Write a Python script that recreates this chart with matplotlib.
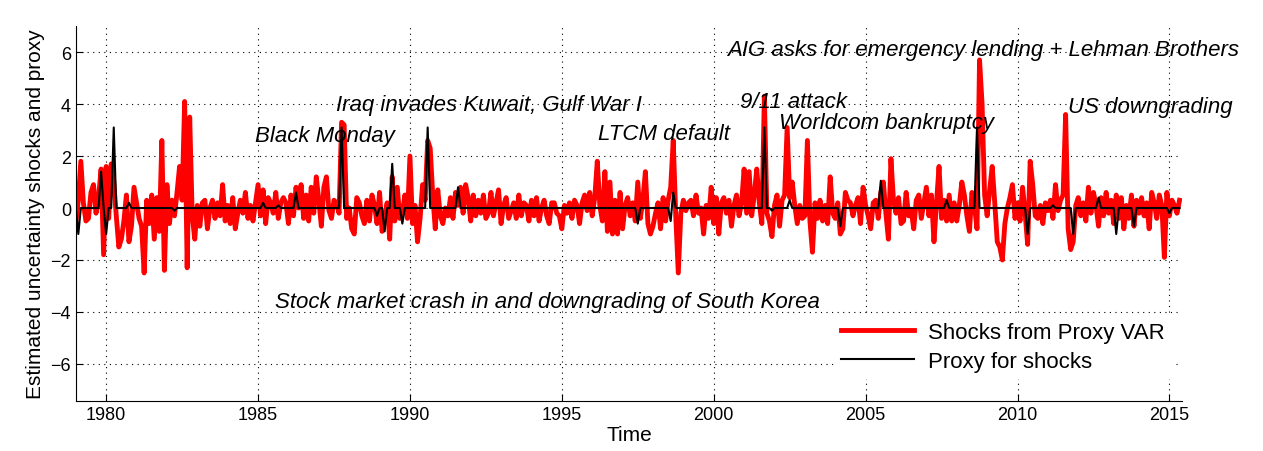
import numpy as np
import matplotlib
matplotlib.use("Agg")
import matplotlib.pyplot as plt

plt.rcParams['font.family'] = ['Liberation Sans', 'DejaVu Sans']

start_year = 1979.0
shocks_by_year = [
    [-0.6, 0.3, 1.8, 0.2, -0.5, -0.4, 0.6, 0.9, -0.2, 0.4, 1.5, -1.8],
    [1.6, -0.4, 1.7, 1.0, -0.3, -1.5, -1.2, -0.5, 0.5, -1.3, -0.7, 0.8],
    [0.2, -0.4, -0.7, -2.5, 0.3, -0.6, 0.5, -1.2, 0.4, -0.9, 2.6, -2.4],
    [0.9, -0.6, 0.3, -0.3, 0.6, 1.6, 0.3, 4.1, -2.3, 3.5, -0.3, -1.2],
    [0.1, -0.7, 0.2, 0.3, -0.8, 0.0, 0.3, -0.4, 0.2, -0.3, 0.9, -0.5],
    [0.1, -0.6, 0.4, -0.8, -0.2, 0.3, -0.2, 0.6, -0.4, 0.1, -0.5, 0.2],
    [0.9, -0.3, 0.7, -0.6, 0.4, 0.2, -0.2, 0.6, -0.4, 0.2, 0.4, 0.2],
    [-0.6, 0.5, -0.3, 0.8, 0.0, 0.9, -0.4, 0.5, -0.5, 0.8, -0.2, 1.2],
    [0.3, -0.7, 0.8, 1.2, -0.1, -0.4, 0.3, 0.2, -0.2, 3.3, 3.2, -0.4],
    [0.0, -0.8, -1.0, 0.4, 0.2, -0.3, -0.6, 0.3, -0.5, 0.5, 0.1, -0.6],
    [0.6, -0.9, -0.3, 0.2, -1.2, 1.2, -0.5, 0.8, -0.4, -0.2, 0.5, -0.4],
    [2.0, -0.6, 0.1, -1.3, -0.4, 0.9, 0.3, 2.6, 2.3, 0.5, -0.8, 0.7],
    [-0.3, -0.6, 0.0, -0.3, 0.4, -0.4, 0.6, 0.1, 0.8, -0.2, 0.9, 0.4],
    [-0.5, 0.5, -0.3, 0.3, -0.2, 0.5, -0.4, -0.2, 0.6, -0.3, 0.2, 0.7],
    [-0.6, 0.1, 0.4, -0.4, -0.1, 0.2, -0.4, 0.5, -0.3, 0.2, 0.1, -0.5],
    [0.3, -0.3, 0.4, -0.5, 0.0, 0.3, -0.3, -0.6, 0.2, 0.2, -0.2, -0.3],
    [-0.8, 0.1, -0.2, 0.2, -0.4, 0.3, 0.1, -0.6, 0.2, 0.5, -0.1, 0.6],
    [-0.3, 0.4, 1.8, 0.1, -0.5, 1.4, -0.9, 1.0, -1.0, 0.3, -1.0, 0.6],
    [-0.8, 0.1, 0.4, -0.3, 0.2, -0.5, 1.0, -0.4, 0.3, 1.4, -0.6, -1.0],
    [-0.7, -0.2, 0.2, -0.8, 0.4, -0.5, 0.3, 0.8, 2.6, -0.3, -2.5, -0.2],
    [0.3, -0.1, 0.2, 0.3, -0.3, 0.5, -0.2, 0.0, -1.0, 0.1, -0.4, 0.8],
    [-0.6, 0.4, -1.0, 0.2, 0.4, -0.2, 0.3, -0.7, 0.1, 0.5, -0.3, 0.2],
    [1.5, -0.2, 1.4, -0.3, 0.5, 1.5, 0.2, -0.6, 4.3, -0.2, -0.5, -1.1],
    [0.1, 0.5, -0.7, 0.3, 0.5, 3.1, 0.4, 1.0, 0.1, -0.6, 0.1, -0.4],
    [-0.3, 2.6, -0.5, -1.7, 0.2, -0.4, 0.3, -0.5, 0.1, -0.6, 1.2, -0.2],
    [-0.4, 0.2, -1.0, -0.8, 0.6, 0.3, 0.2, -0.3, 0.1, 0.4, -0.6, 0.8],
    [0.1, -0.3, -0.8, 0.2, 0.3, -0.4, 0.6, 1.0, -0.2, -1.2, 1.9, 0.3],
    [-0.2, 0.4, -0.6, -0.5, 0.6, -0.3, -0.1, -0.8, 0.3, 0.5, -0.4, 0.2],
    [0.8, -0.3, 0.5, -1.3, 0.2, 1.6, -0.4, 0.3, -0.5, 0.5, -0.5, 0.2],
    [-0.5, 0.1, 1.0, 0.5, -0.3, -0.9, 0.6, 0.1, -0.8, 5.7, 4.0, 0.5],
    [-0.3, 0.7, 1.6, 0.2, -1.3, -1.5, -2.0, -0.6, 0.0, 0.4, 0.9, -0.4],
    [0.2, -0.5, 0.8, -0.2, -1.4, 1.8, 0.9, -0.3, -0.4, 0.1, -0.6, 0.2],
    [-0.1, 0.3, -0.4, 0.9, -0.1, 0.3, 0.5, 3.6, -0.8, -1.6, -1.3, 0.1],
    [0.4, -0.3, 0.2, -0.5, 0.8, -0.2, 0.6, 0.1, -0.7, 0.4, -0.3, 0.6],
    [-0.2, 0.3, -0.6, 0.5, -0.4, 0.4, -0.8, 0.1, -0.4, 0.5, -0.7, 0.3],
    [-0.2, 0.4, -0.3, 0.2, -0.8, 0.6, 0.2, -0.4, 0.5, 0.1, -1.9, 0.6],
    [-0.3, 0.3, 0.1, -0.2, 0.3],
]

proxy_dates = [1979.1, 1979.85, 1980.0, 1980.24, 1980.77, 1982.28, 1985.16, 1985.7,
               1986.26, 1987.76, 1988.9, 1989.19, 1989.4, 1989.77, 1990.6, 1991.6,
               1997.5, 1998.58, 1998.7, 2001.69, 2001.95, 2002.5, 2004.18, 2005.5,
               2007.66, 2008.7, 2010.35, 2011.16, 2011.8, 2012.67, 2013.25, 2013.85,
               2015.0]
proxy_values = [-1.0, 1.4, -1.0, 3.1, 0.2, -0.1, 0.2, 0.1,
                0.6, 3.1, -0.3, -0.9, 1.7, -0.6, 3.1, 0.8,
                -0.6, -0.5, 0.6, 3.1, -0.1, 0.3, -0.7, 1.05,
                0.3, 3.1, -1.0, 0.1, -1.0, 0.4, -1.0, -0.7,
                -0.2]

events = ["AIG asks for emergency lending + Lehman Brothers", "9/11 attack",
          "Worldcom bankruptcy", "US downgrading", "LTCM default",
          "Iraq invades Kuwait, Gulf War I", "Black Monday",
          "Stock market crash in and downgrading of South Korea"]
event_x = [2000.44, 2000.87, 2002.15, 2011.65, 1996.2, 1987.55, 1984.9, 1985.57]
event_y = [6.1, 4.1, 3.3, 3.9, 2.85, 4.0, 2.8, -3.6]

shocks = np.concatenate([np.array(r) for r in shocks_by_year])
t = start_year + np.arange(len(shocks)) / 12.0
proxy = np.zeros(len(t))
for d, v in zip(proxy_dates, proxy_values):
    proxy[int(round((d - start_year) * 12))] = v

fig = plt.figure(figsize=(12.63, 4.52), dpi=100)
ax = fig.add_axes([0.06, 0.111, 0.876, 0.829])
ax.plot(t, shocks, color='#ff0000', lw=3.5, label='Shocks from Proxy VAR', zorder=2)
ax.plot(t, proxy, color='black', lw=1.5, label='Proxy for shocks', zorder=3)
for s, x, y in zip(events, event_x, event_y):
    ax.text(x, y, s, fontsize=16, style='italic', va='center', ha='left', zorder=4)

ax.set_xlim(1979.0, 2015.42)
ax.set_ylim(-7.42, 7.0)
ax.set_yticks([-6, -4, -2, 0, 2, 4, 6])
ax.set_xticks(range(1980, 2016, 5))
ax.grid(True, color='black', linestyle=(0, (1, 4)), lw=0.8)
ax.tick_params(direction='in', labelsize=13, length=5)
ax.spines['top'].set_visible(False)
ax.spines['right'].set_visible(False)
ax.set_xlabel('Time', fontsize=15, labelpad=2)
ax.set_ylabel('Estimated uncertainty shocks and proxy', fontsize=15, labelpad=4)
leg = ax.legend(loc='lower right', bbox_to_anchor=(1.0, 0.03), fontsize=16,
                frameon=True, fancybox=False, handlelength=3.3, borderpad=0.3,
                labelspacing=0.35, handletextpad=0.6)
leg.get_frame().set_edgecolor('white')
leg.get_frame().set_alpha(1)
fig.savefig('out.png', dpi=100)
